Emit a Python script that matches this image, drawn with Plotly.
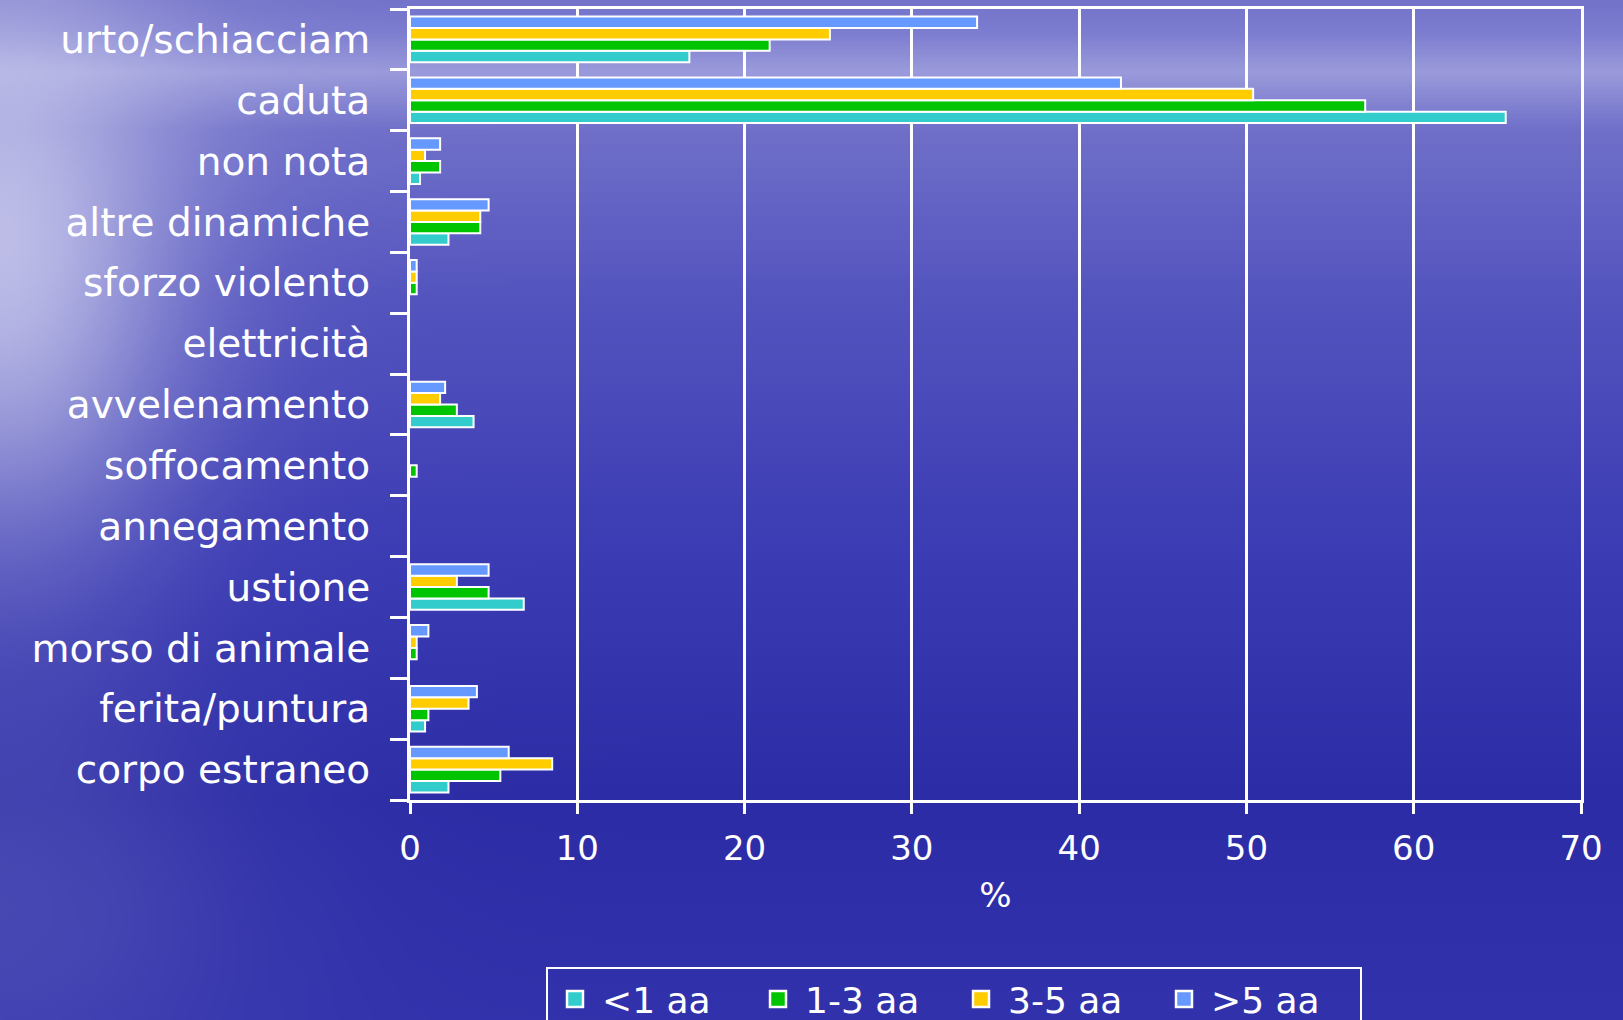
import base64
import struct
import zlib

import numpy as np
import plotly.graph_objects as go

# ---------------- data ----------------
categories = [
    "urto/schiacciam", "caduta", "non nota", "altre dinamiche", "sforzo violento",
    "elettricità", "avvelenamento", "soffocamento", "annegamento", "ustione",
    "morso di animale", "ferita/puntura", "corpo estraneo",
]
series_names = ["<1 aa", "1-3 aa", "3-5 aa", ">5 aa"]
lt1 = [16.7, 65.5, 0.6, 2.3, 0.0, 0.0, 3.8, 0.0, 0.0, 6.8, 0.0, 0.9, 2.3]
a1_3 = [21.5, 57.1, 1.8, 4.2, 0.4, 0.0, 2.8, 0.4, 0.0, 4.7, 0.4, 1.1, 5.4]
a3_5 = [25.1, 50.4, 0.9, 4.2, 0.4, 0.0, 1.8, 0.0, 0.0, 2.8, 0.4, 3.5, 8.5]
gt5 = [33.9, 42.5, 1.8, 4.7, 0.4, 0.0, 2.1, 0.0, 0.0, 4.7, 1.1, 4.0, 5.9]
x_ticks = [0, 10, 20, 30, 40, 50, 60, 70]

colors = ["#33CCCC", "#00C400", "#FFCC00", "#6699FF"]

# ---------------- background (blue water-like gradient) ----------------
FW, FH = 1623, 1020
W, H = 406, 255
xs = (np.arange(W) + 0.5) / W * FW
ys = (np.arange(H) + 0.5) / H * FH
X, Y = np.meshgrid(xs, ys)

stop_y = np.array([0, 30, 72, 130, 300, 550, 800, 1020], dtype=float)
stop_c = np.array([
    (115, 115, 202), (124, 124, 208), (155, 155, 220), (112, 112, 202),
    (84, 84, 191), (60, 60, 180), (44, 44, 166), (50, 50, 172)], dtype=float)
base = np.stack([np.interp(Y, stop_y, stop_c[:, k]) for k in range(3)], axis=-1)

haze = np.array([210, 210, 240], dtype=float)
w = 0.82 * np.exp(-(X / 180.0) ** 2) * np.exp(-((Y - 250.0) / 290.0) ** 2)
w += 0.15 * np.exp(-(X / 260.0) ** 2) * np.exp(-((Y - 900.0) / 200.0) ** 2)
w = np.clip(w, 0, 1)[..., None]
img = base * (1 - w) + haze * w
img = np.clip(img, 0, 255).astype(np.uint8)


def png_bytes(arr):
    h, w_ = arr.shape[:2]
    raw = b"".join(b"\x00" + arr[r].tobytes() for r in range(h))

    def chunk(tag, data):
        c = struct.pack(">I", len(data)) + tag + data
        return c + struct.pack(">I", zlib.crc32(tag + data) & 0xFFFFFFFF)

    return (b"\x89PNG\r\n\x1a\n"
            + chunk(b"IHDR", struct.pack(">IIBBBBB", w_, h, 8, 2, 0, 0, 0))
            + chunk(b"IDAT", zlib.compress(raw, 9))
            + chunk(b"IEND", b""))


bg_src = "data:image/png;base64," + base64.b64encode(png_bytes(img)).decode()

# ---------------- figure ----------------
ML, MR, MT, MB = 410, 42, 9, 220
PW = FW - ML - MR
PH = FH - MT - MB

fig = go.Figure()
for name, vals, col in zip(series_names, [lt1, a1_3, a3_5, gt5], colors):
    fig.add_trace(go.Bar(
        y=categories, x=[v if v else None for v in vals], name=name,
        orientation="h", showlegend=False, legendgroup=name,
        marker=dict(color=col, line=dict(color="white", width=2)),
    ))
# legend entries with square swatches
for name, col in zip(series_names, colors):
    fig.add_trace(go.Scatter(
        x=[None], y=[None], mode="markers", name=name, legendgroup=name,
        marker=dict(symbol="square", size=22, color=col, line=dict(color="white", width=2.5)),
        hoverinfo="skip",
    ))

font_family = "DejaVu Sans"
fig.update_layout(
    width=FW, height=FH,
    margin=dict(l=ML, r=MR, t=MT, b=MB, autoexpand=False),
    paper_bgcolor="#3a3ab0",
    plot_bgcolor="rgba(0,0,0,0)",
    barmode="group", bargap=0.25, bargroupgap=0.0,
    font=dict(family=font_family, color="white"),
    showlegend=True,
    legend=dict(
        orientation="h", traceorder="normal", itemsizing="trace",
        x=(954 - ML) / PW, xanchor="center",
        y=-(967 - (MT + PH)) / PH, yanchor="top",
        bgcolor="rgba(0,0,0,0)", bordercolor="white", borderwidth=2,
        font=dict(size=36, color="white", family=font_family),
        itemwidth=44, entrywidth=144,
    ),
    images=[dict(
        source=bg_src, xref="paper", yref="paper",
        x=-ML / PW, y=1 + MT / PH, sizex=FW / PW, sizey=FH / PH,
        xanchor="left", yanchor="top", sizing="stretch", layer="below",
    )],
)
fig.update_xaxes(
    range=[0, 70], tickvals=x_ticks, ticktext=[str(v) for v in x_ticks],
    showgrid=True, gridcolor="white", gridwidth=3, zeroline=False,
    showline=True, linecolor="white", linewidth=3, mirror=True,
    ticks="outside", ticklen=11, tickwidth=3, tickcolor="white",
    tickfont=dict(size=34, color="white", family=font_family),
    ticklabelstandoff=5,
    title=dict(text="%", font=dict(size=34, color="white", family=font_family), standoff=17),
)
fig.update_yaxes(
    type="category", categoryorder="array", categoryarray=categories[::-1],
    tickson="boundaries", showgrid=False, zeroline=False,
    showline=True, linecolor="white", linewidth=3, mirror=True,
    ticks="outside", ticklen=17, tickwidth=3, tickcolor="white",
    tickfont=dict(size=39, color="white", family=font_family),
    ticklabelstandoff=29,
)

fig.write_html(
    "out.html",
    config={"displayModeBar": False},
    post_script="document.body.style.margin='0';document.body.style.overflow='hidden';",
)
